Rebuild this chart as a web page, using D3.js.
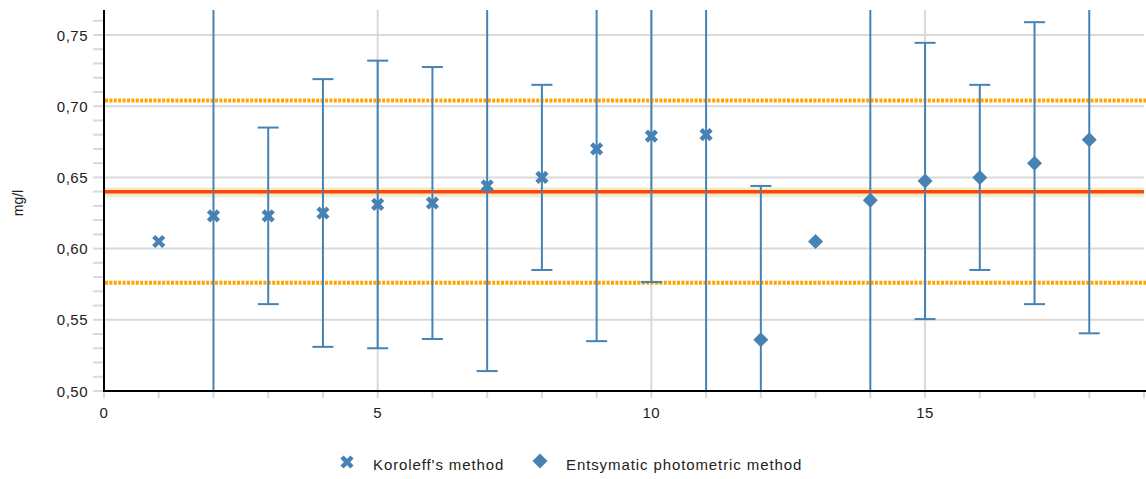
<!DOCTYPE html>
<html><head><meta charset="utf-8">
<script src="https://cdn.jsdelivr.net/npm/d3@7/dist/d3.min.js"></script>
<style>
body{margin:0;background:#fff;}
text{font-family:"Liberation Sans",Arial,sans-serif;fill:#222;}
</style></head>
<body><svg id="c" width="1146" height="479"></svg>
<script>
// Koroleff's method (labs 1–11)
const korX = [1,2,3,4,5,6,7,8,9,10,11];
const korY = [0.605,0.623,0.623,0.625,0.631,0.632,0.644,0.650,0.670,0.679,0.680];
const korErr = [null,0.16,0.062,0.094,0.101,0.0955,0.13,0.065,0.135,0.1025,0.20];
// Entsymatic photometric method (labs 12–18)
const entX = [12,13,14,15,16,17,18];
const entY = [0.536,0.605,0.634,0.6475,0.650,0.660,0.6765];
const entErr = [0.108,null,0.15,0.097,0.065,0.099,0.136];
// reference values
const refValue = 0.640;
const refBand = [0.636,0.643];
const refLimits = [0.576,0.704];
const xTicks = [0,5,10,15];
const yTicks = [0.50,0.55,0.60,0.65,0.70,0.75];
const seriesNames = ["Koroleff's method","Entsymatic photometric method"];

const svg = d3.select("#c");
const L=104, R=1144, T=10, B=391;
const x = d3.scaleLinear().domain([0,19]).range([L,R]);
const y = d3.scaleLinear().domain([0.5,0.75]).range([B,35]);
const blue="#4682b4", grid="#d9d9d9";

svg.append("defs").append("clipPath").attr("id","pc")
  .append("rect").attr("x",L).attr("y",T).attr("width",R-L).attr("height",B-T);

// grid
svg.append("g").selectAll("line").data(yTicks.slice(1)).join("line")
  .attr("x1",L).attr("x2",R).attr("y1",d=>y(d)).attr("y2",d=>y(d))
  .attr("stroke",grid).attr("stroke-width",2);
svg.append("g").selectAll("line").data(xTicks.slice(1)).join("line")
  .attr("x1",d=>x(d)).attr("x2",d=>x(d)).attr("y1",T).attr("y2",B)
  .attr("stroke",grid).attr("stroke-width",2);

// minor ticks
svg.append("g").selectAll("line").data(d3.range(50,77).map(v=>v/100)).join("line")
  .attr("x1",93).attr("x2",103).attr("y1",d=>y(d)).attr("y2",d=>y(d))
  .attr("stroke",grid).attr("stroke-width",2);
svg.append("g").selectAll("line").data(d3.range(0,20)).join("line")
  .attr("x1",d=>x(d)).attr("x2",d=>x(d)).attr("y1",392).attr("y2",398)
  .attr("stroke",grid).attr("stroke-width",2);

// reference band and lines
svg.append("rect").attr("x",L).attr("width",R-L)
  .attr("y",y(refBand[1])).attr("height",y(refBand[0])-y(refBand[1]))
  .attr("fill","#f5ecd0");
svg.append("line").attr("x1",L).attr("x2",R).attr("y1",y(refValue)).attr("y2",y(refValue))
  .attr("stroke","#ff4500").attr("stroke-width",3.5);
svg.append("g").selectAll("line").data(refLimits).join("line")
  .attr("x1",L+1).attr("x2",R+2).attr("y1",d=>y(d)).attr("y2",d=>y(d))
  .attr("stroke","#ffa500").attr("stroke-width",4).attr("stroke-dasharray","3,1.4");

// error bars
const pts = korX.map((v,i)=>({x:v,y:korY[i],e:korErr[i],s:0}))
  .concat(entX.map((v,i)=>({x:v,y:entY[i],e:entErr[i],s:1})));
const eb = svg.append("g").attr("clip-path","url(#pc)").attr("stroke",blue).attr("stroke-width",2);
pts.filter(d=>d.e!=null).forEach(d=>{
  const y1=y(d.y+d.e), y2=y(d.y-d.e), cx=x(d.x);
  eb.append("line").attr("x1",cx).attr("x2",cx).attr("y1",y1).attr("y2",y2);
  [y1,y2].forEach(yy=>eb.append("line").attr("x1",cx-10.5).attr("x2",cx+10.5).attr("y1",yy).attr("y2",yy));
});

// markers
function drawX(g,cx,cy){
  const s=5;
  g.append("path").attr("d",`M${cx-s},${cy-s}L${cx+s},${cy+s}M${cx-s},${cy+s}L${cx+s},${cy-s}`)
   .attr("stroke",blue).attr("stroke-width",4.5).attr("fill","none");
}
function drawD(g,cx,cy){
  const s=7.5;
  g.append("path").attr("d",`M${cx},${cy-s}L${cx+s},${cy}L${cx},${cy+s}L${cx-s},${cy}Z`).attr("fill",blue);
}
const mk = svg.append("g");
pts.forEach(d=>{ (d.s===0?drawX:drawD)(mk,x(d.x),y(d.y)); });

// axes lines
svg.append("line").attr("x1",L).attr("x2",L).attr("y1",T).attr("y2",B+1).attr("stroke","#000").attr("stroke-width",2);
svg.append("line").attr("x1",L-1).attr("x2",R+2).attr("y1",B).attr("y2",B).attr("stroke","#000").attr("stroke-width",2);

// tick labels
const fmt = v=>v.toFixed(2).replace(".",",");
svg.append("g").selectAll("text").data(yTicks).join("text")
  .attr("x",88).attr("y",d=>y(d)+5.5).attr("text-anchor","end")
  .style("font-size","15px").style("letter-spacing","0.5px").text(fmt);
svg.append("g").selectAll("text").data(xTicks).join("text")
  .attr("x",d=>x(d)).attr("y",418).attr("text-anchor","middle")
  .style("font-size","15px").style("letter-spacing","0.5px").text(d=>d);

// y title
svg.append("text").attr("transform","translate(23,203) rotate(-90)").attr("text-anchor","middle")
  .style("font-size","14px").text("mg/l");

// legend
const lg = svg.append("g");
drawX(lg,347,462);
lg.append("text").attr("x",373).attr("y",470).style("font-size","15px").style("letter-spacing","0.9px").text(seriesNames[0]);
drawD(lg,540,461);
lg.append("text").attr("x",566).attr("y",470).style("font-size","15px").style("letter-spacing","0.9px").text(seriesNames[1]);
</script></body></html>
